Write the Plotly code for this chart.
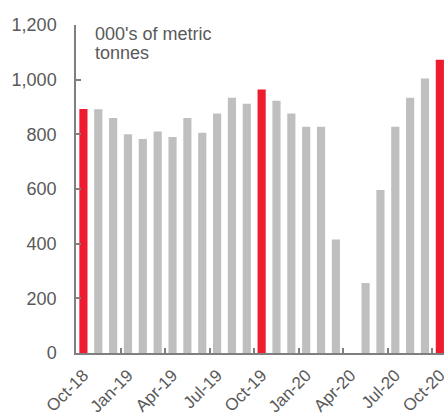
import plotly.graph_objects as go

months = ["Oct-18", "Nov-18", "Dec-18", "Jan-19", "Feb-19", "Mar-19", "Apr-19", "May-19",
          "Jun-19", "Jul-19", "Aug-19", "Sep-19", "Oct-19", "Nov-19", "Dec-19", "Jan-20",
          "Feb-20", "Mar-20", "Apr-20", "May-20", "Jun-20", "Jul-20", "Aug-20", "Sep-20", "Oct-20"]
values = [893, 892, 860, 800, 783, 810, 790, 860, 806, 876, 934, 912, 964, 923, 876, 828,
          828, 415, 0, 256, 596, 828, 934, 1004, 1073]
highlight = ["Oct-18", "Oct-19", "Oct-20"]
y_ticks = [0, 200, 400, 600, 800, 1000, 1200]
unit_lines = ["000's of metric", "tonnes"]

RED = "#ED1C2E"
GRAY = "#BFBFBF"
TXT = "#595959"
AX = "#7F7F7F"

colors = [RED if m in highlight else GRAY for m in months]

fig = go.Figure(go.Bar(x=months, y=values,
                       marker=dict(color=colors, line=dict(width=0)),
                       hoverinfo="x+y"))

font = dict(family="Liberation Sans, Arial, sans-serif", size=18, color=TXT)
xfont = dict(family="Liberation Sans, Arial, sans-serif", size=17, color=TXT)

fig.update_layout(
    width=444, height=414,
    margin=dict(l=76, r=0, t=25, b=61),
    paper_bgcolor="white", plot_bgcolor="white",
    bargap=0.45, showlegend=False, font=font,
)
fig.update_xaxes(
    type="category", range=[-0.5, 24.28], tickson="boundaries", dtick=3,
    ticks="inside", ticklen=5, tickcolor=AX, tickwidth=1.5,
    showline=True, linecolor=AX, linewidth=1.5, showgrid=False,
    tickangle=-45, tickfont=xfont, ticklabelstandoff=4, automargin=False,
)
fig.update_yaxes(
    range=[0, 1200], tickvals=y_ticks, tickformat=",",
    ticks="inside", ticklen=5, tickcolor=AX, tickwidth=1.5,
    showline=True, linecolor=AX, linewidth=1.5, showgrid=False, zeroline=False,
    tickfont=font, ticklabelstandoff=14, automargin=False,
)
for i, line in enumerate(unit_lines):
    fig.add_annotation(text=line, xref="paper", yref="paper", x=0.046, y=1,
                       xanchor="left", yanchor="top", showarrow=False,
                       yshift=3 - 19 * i, font=font)

fig.write_html("out.html")
